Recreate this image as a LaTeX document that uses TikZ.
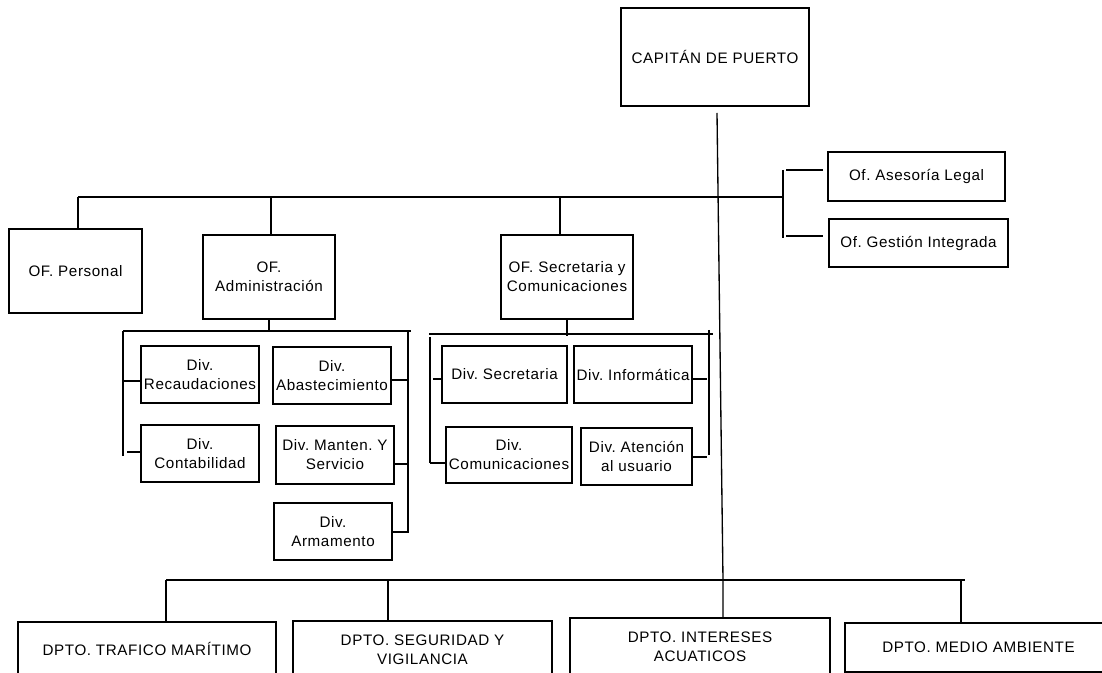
\documentclass[tikz,border=0pt]{standalone}
\usepackage{fontspec}
\setmainfont[LetterSpace=4]{Liberation Sans}
\usetikzlibrary{calc}
\frenchspacing

\tikzset{
  box/.style={draw=black, line width=1.1pt, align=center, inner sep=0pt},
  link/.style={draw=black, line width=1pt},
}

% \orgbox{name}{x1}{y1}{x2}{y2}{text}: a framed unit given by its corners
\newcommand{\orgbox}[6]{%
  \node[box, minimum width={(#4-#2)*0.75pt}, minimum height={(#5-#3)*0.75pt}]
    (#1) at ({(#2+#4)/2},{(#3+#5)/2}) {#6};}

\begin{document}
\begin{tikzpicture}[x=0.75pt, y=-0.75pt, font=\fontsize{11.4}{14.25}\selectfont]
\useasboundingbox (0,0) rectangle (1102,673);
\clip (0,0) rectangle (1102,673);

% ---- units ----
\orgbox{cap}{621}{8}{809}{106}{CAPITÁN DE PUERTO}
\orgbox{ases}{828}{152}{1005}{201}{Of. Asesoría Legal}
\orgbox{gest}{829}{219}{1008}{267}{Of. Gestión Integrada}

\orgbox{pers}{9}{229}{142}{313}{OF. Personal}
\orgbox{admin}{203}{235}{335}{319}{OF.\\Administración}
\orgbox{secr}{501}{235}{633}{319}{OF. Secretaria y\\Comunicaciones}

\orgbox{recaud}{141}{346}{259}{403}{Div.\\Recaudaciones}
\orgbox{abast}{273}{347}{391}{404}{Div.\\Abastecimiento}
\orgbox{contab}{141}{425}{259}{482}{Div.\\Contabilidad}
\orgbox{manten}{276}{426}{394}{484}{Div. Manten. Y\\Servicio}
\orgbox{armam}{274}{503}{392}{560}{Div.\\Armamento}

\orgbox{dsecr}{442}{346}{567}{403}{Div. Secretaria}
\orgbox{dinfo}{574}{346}{692}{403}{Div. Informática}
\orgbox{dcomu}{446}{427}{572}{483}{Div.\\Comunicaciones}
\orgbox{daten}{581}{428}{692}{485}{Div. Atención\\al usuario}

\orgbox{trafico}{18}{622}{276}{676}{DPTO. TRAFICO MARÍTIMO}
\orgbox{segur}{293}{621}{552}{679}{DPTO. SEGURIDAD Y\\VIGILANCIA}
\orgbox{inter}{570}{618}{830}{675}{DPTO. INTERESES\\ACUATICOS}
\orgbox{medio}{845}{623}{1112}{672}{DPTO. MEDIO AMBIENTE}

% ---- main trunk ----
\coordinate (trunkTop) at (717,113);
\coordinate (trunkBus) at (723,580);
\draw[link] (trunkTop) -- (trunkBus) -- (trunkBus |- inter.north);

% ---- staff offices ----
\coordinate (staffL) at (78,197);
\coordinate (staffR) at (783,197);
\draw[link] (staffL) -- (staffR);
\draw[link] (staffL) -- (staffL |- pers.north);
\coordinate (admDrop) at (271,197);
\draw[link] (admDrop) -- (admDrop |- admin.north);
\coordinate (secDrop) at (560,197);
\draw[link] (secDrop) -- (secDrop |- secr.north);

% ---- advisory bracket ----
\coordinate (advTop) at (783,170);
\coordinate (advBot) at (783,238);
\draw[link] (advTop) -- (advBot);
\coordinate (sAses) at (786,170);
\draw[link] (sAses) -- ($(sAses -| ases.west)+(-4,0)$);
\coordinate (sGest) at (786,236);
\draw[link] (sGest) -- ($(sGest -| gest.west)+(-5,0)$);

% ---- administration divisions ----
\coordinate (admBusL) at (123,331);
\coordinate (admBusR) at (411,331);
\coordinate (admLeftEnd) at (123,456);
\coordinate (admRightTop) at (408,331);
\coordinate (admRightEnd) at (408,533);
\draw[link] (admin.south) -- (admin.south |- admBusL);
\draw[link] (admBusL) -- (admBusR);
\draw[link] (admBusL) -- (admLeftEnd);
\draw[link] (admRightTop) -- (admRightEnd);
\coordinate (sRec) at (123,381);
\draw[link] (sRec) -- (sRec -| recaud.west);
\coordinate (sCon) at (127,452);
\draw[link] (sCon) -- (sCon -| contab.west);
\coordinate (sAba) at (408,380);
\draw[link] (sAba) -- (sAba -| abast.east);
\coordinate (sMan) at (408,464);
\draw[link] (sMan) -- (sMan -| manten.east);
\coordinate (sArm) at (408,532);
\draw[link] (sArm) -- (sArm -| armam.east);

% ---- secretariat divisions ----
\coordinate (secBusL) at (429,334);
\coordinate (secBusR) at (713,334);
\coordinate (secLeftTop) at (430,337);
\coordinate (secLeftEnd) at (430,463);
\coordinate (secRightTop) at (709,330);
\coordinate (secRightEnd) at (709,455);
\draw[link] (secr.south) -- ($(secr.south |- secBusL)+(0,2)$);
\draw[link] (secBusL) -- (secBusR);
\draw[link] (secLeftTop) -- (secLeftEnd);
\draw[link] (secRightTop) -- (secRightEnd);
\coordinate (sDsec) at (433,379);
\draw[link] (sDsec) -- (sDsec -| dsecr.west);
\coordinate (sDcom) at (430,463);
\draw[link] (sDcom) -- (sDcom -| dcomu.west);
\coordinate (sDinf) at (707,379);
\draw[link] (sDinf) -- (sDinf -| dinfo.east);
\coordinate (sDate) at (707,457);
\draw[link] (sDate) -- (sDate -| daten.east);

% ---- departments ----
\coordinate (deptL) at (166,580);
\coordinate (deptR) at (965,580);
\draw[link] (deptL) -- (deptR);
\draw[link] (deptL) -- (deptL |- trafico.north);
\coordinate (dSeg) at (388,580);
\draw[link] (dSeg) -- (dSeg |- segur.north);
\coordinate (dMed) at (961,580);
\draw[link] (dMed) -- (dMed |- medio.north);
\end{tikzpicture}
\end{document}
